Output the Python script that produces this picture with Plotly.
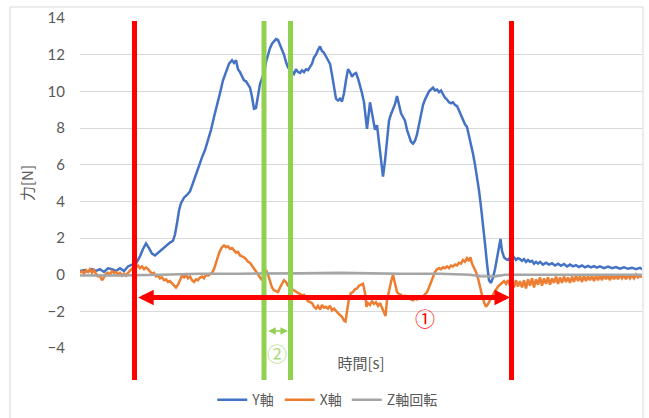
import plotly.graph_objects as go

# ---------------- data (time in s, force in N) ----------------
t_y = [0.0, 0.4, 0.8, 1.2, 1.6, 2.0, 2.4, 2.8, 3.2, 3.6, 4.0, 4.4, 4.8, 5.2, 5.6, 6.0, 6.3, 6.6, 6.9, 7.2,
       7.5, 7.8, 8.1, 8.4, 8.7, 9.0, 9.3, 9.5, 9.7, 9.9, 10.1, 10.4, 10.7, 11.0, 11.3, 11.6, 11.9, 12.2, 12.5, 12.8,
       13.1, 13.4, 13.7, 14.0, 14.3, 14.6, 14.9, 15.2, 15.4, 15.6, 15.8, 16.0, 16.2, 16.4, 16.6, 16.8, 17.0, 17.2, 17.4, 17.6,
       17.8, 18.0, 18.2, 18.4, 18.6, 18.8, 19.0, 19.2, 19.4, 19.6, 19.8, 20.0, 20.2, 20.4, 20.6, 20.8, 21.0, 21.2, 21.4, 21.6,
       21.8, 22.0, 22.2, 22.4, 22.6, 22.8, 23.0, 23.2, 23.4, 23.6, 23.8, 24.0, 24.2, 24.4, 24.6, 24.8, 25.0, 25.2, 25.4, 25.6,
       25.8, 26.0, 26.2, 26.4, 26.6, 26.8, 27.0, 27.2, 27.4, 27.6, 27.8, 28.0, 28.2, 28.4, 28.6, 28.7, 28.9, 29.0, 29.2, 29.4,
       29.5, 29.7, 29.9, 30.1, 30.3, 30.5, 30.7, 30.9, 31.1, 31.3, 31.5, 31.7, 31.9, 32.1, 32.3, 32.5, 32.7, 32.9, 33.1, 33.3,
       33.5, 33.7, 33.9, 34.1, 34.3, 34.5, 34.7, 34.9, 35.1, 35.3, 35.5, 35.7, 35.9, 36.1, 36.3, 36.5, 36.7, 36.9, 37.1, 37.3,
       37.5, 37.7, 37.9, 38.1, 38.3, 38.5, 38.7, 38.9, 39.1, 39.3, 39.5, 39.7, 39.9, 40.1, 40.3, 40.5, 40.7, 40.9, 41.1, 41.3,
       41.5, 41.7, 41.9, 42.05, 42.2, 42.4, 42.6, 42.8, 43.0, 43.2, 43.4, 43.6, 43.8, 44.0, 44.2, 44.4, 44.6, 44.8, 45.0, 45.2,
       45.4, 45.6, 45.8, 46.0, 46.3, 46.6, 46.9, 47.2, 47.5, 47.8, 48.1, 48.4, 48.7, 49.0, 49.3, 49.6, 49.9, 50.2, 50.5, 50.8,
       51.1, 51.4, 51.7, 52.0, 52.4, 52.8, 53.2, 53.6, 54.0, 54.4, 54.8, 55.2, 55.6, 56.0, 56.2]
y_axis = [0.2, 0.25, 0.15, 0.3, 0.2, 0.3, 0.15, 0.35, 0.3, 0.2, 0.35, 0.2, 0.45, 0.55, 0.6, 1.0, 1.4, 1.7, 1.45, 1.15,
          1.05, 1.2, 1.3, 1.45, 1.6, 1.75, 1.85, 2.2, 2.8, 3.5, 3.9, 4.2, 4.35, 4.55, 5.0, 5.5, 5.95, 6.4, 6.8, 7.3,
          7.9, 8.6, 9.2, 9.9, 10.6, 11.1, 11.5, 11.7, 11.55, 11.7, 11.2, 11.05, 10.85, 10.6, 10.55, 10.35, 10.2, 9.7, 9.05, 9.1,
          9.8, 10.4, 10.7, 11.0, 11.6, 12.05, 12.35, 12.6, 12.75, 12.85, 12.8, 12.55, 12.25, 12.0, 11.6, 11.3, 11.2, 11.1, 10.95, 11.2,
          11.05, 11.0, 11.15, 11.05, 11.2, 11.15, 11.35, 11.5, 11.85, 12.0, 12.25, 12.45, 12.2, 12.1, 11.9, 11.7, 11.5, 10.9, 10.2, 9.6,
          9.5, 9.6, 9.45, 9.9, 10.6, 11.2, 11.05, 10.8, 10.95, 11.0, 10.7, 10.35, 9.9, 9.4, 8.2, 7.95, 8.9, 9.4, 8.8, 8.1,
          7.9, 8.15, 7.3, 6.5, 5.35, 6.2, 7.4, 8.4, 8.75, 9.05, 9.3, 9.75, 9.2, 8.8, 8.6, 8.4, 7.9, 7.5, 7.25, 7.15,
          7.3, 7.65, 8.2, 8.8, 9.25, 9.55, 9.75, 10.0, 10.1, 10.2, 10.05, 10.1, 9.95, 10.05, 9.85, 9.65, 9.55, 9.4, 9.35, 9.4,
          9.25, 9.2, 8.95, 8.7, 8.35, 8.2, 8.05, 7.6, 7.0, 6.6, 6.0, 5.4, 4.6, 3.7, 2.8, 1.7, 0.6, -0.3, -0.45, -0.15,
          0.3, 0.9, 1.6, 1.95, 1.3, 0.95, 0.85, 0.8, 0.95, 0.85, 0.95, 0.8, 0.9, 0.85, 0.75, 0.85, 0.7, 0.8, 0.7, 0.75,
          0.6, 0.7, 0.6, 0.7, 0.55, 0.65, 0.55, 0.62, 0.5, 0.6, 0.48, 0.58, 0.45, 0.55, 0.45, 0.52, 0.42, 0.5, 0.4, 0.48,
          0.4, 0.47, 0.38, 0.45, 0.36, 0.44, 0.35, 0.42, 0.33, 0.4, 0.32, 0.38, 0.3, 0.37, 0.3]

t_x = [0.0, 0.2, 0.4, 0.6, 0.8, 1.0, 1.2, 1.4, 1.6, 1.8, 2.0, 2.2, 2.4, 2.6, 2.8, 3.0, 3.2, 3.4, 3.6, 3.8,
       4.0, 4.2, 4.4, 4.6, 4.8, 5.0, 5.2, 5.4, 5.6, 5.8, 6.0, 6.2, 6.4, 6.6, 6.8, 7.0, 7.2, 7.4, 7.6, 7.8,
       8.0, 8.2, 8.4, 8.6, 8.8, 9.0, 9.2, 9.4, 9.6, 9.8, 10.0, 10.2, 10.4, 10.6, 10.8, 11.0, 11.2, 11.4, 11.6, 11.8,
       12.0, 12.2, 12.4, 12.6, 12.8, 13.0, 13.2, 13.4, 13.6, 13.8, 14.0, 14.2, 14.4, 14.6, 14.8, 15.0, 15.2, 15.4, 15.6, 15.8,
       16.0, 16.2, 16.4, 16.6, 16.8, 17.0, 17.2, 17.4, 17.6, 17.8, 18.0, 18.2, 18.4, 18.6, 18.8, 19.0, 19.2, 19.4, 19.6, 19.8,
       20.0, 20.2, 20.4, 20.6, 20.8, 21.0, 21.2, 21.4, 21.6, 21.8, 22.0, 22.2, 22.4, 22.6, 22.8, 23.0, 23.2, 23.4, 23.6, 23.8,
       24.0, 24.2, 24.4, 24.6, 24.8, 25.0, 25.2, 25.4, 25.6, 25.8, 26.0, 26.2, 26.4, 26.55, 26.7, 26.9, 27.1, 27.3, 27.5, 27.7,
       27.9, 28.1, 28.3, 28.5, 28.65, 28.8, 29.0, 29.2, 29.4, 29.6, 29.8, 30.0, 30.2, 30.4, 30.55, 30.7, 30.9, 31.1, 31.3, 31.5,
       31.7, 31.9, 32.1, 32.3, 32.5, 32.7, 32.9, 33.1, 33.3, 33.5, 33.7, 33.9, 34.1, 34.3, 34.5, 34.7, 34.9, 35.1, 35.3, 35.5,
       35.7, 35.9, 36.1, 36.3, 36.5, 36.7, 36.9, 37.1, 37.3, 37.5, 37.7, 37.9, 38.1, 38.3, 38.5, 38.7, 38.9, 39.05, 39.2, 39.4,
       39.6, 39.8, 40.0, 40.2, 40.4, 40.6, 40.8, 41.0, 41.2, 41.4, 41.6, 41.8, 42.0, 42.2, 42.4, 42.6, 42.8, 43.0, 43.2, 43.4,
       43.6, 43.8, 44.0, 44.2, 44.4, 44.6, 44.8, 45.0, 45.2, 45.4, 45.6, 45.8, 46.0, 46.2, 46.4, 46.6, 46.8, 47.0, 47.2, 47.4,
       47.6, 47.8, 48.0, 48.2, 48.4, 48.6, 48.8, 49.0, 49.2, 49.4, 49.6, 49.8, 50.0, 50.2, 50.4, 50.6, 50.8, 51.0, 51.2, 51.4,
       51.6, 51.8, 52.0, 52.2, 52.4, 52.6, 52.8, 53.0, 53.2, 53.4, 53.6, 53.8, 54.0, 54.2, 54.4, 54.6, 54.8, 55.0, 55.2, 55.4,
       55.6, 55.8, 56.0, 56.2]
x_axis = [0.1, 0.2, 0.05, 0.25, 0.15, 0.3, 0.1, 0.25, 0.05, -0.1, -0.05, -0.3, -0.15, 0.05, 0.1, 0.0, 0.2, 0.1, 0.15, 0.0,
          0.1, -0.05, 0.05, -0.05, 0.1, 0.2, 0.35, 0.45, 0.4, 0.5, 0.35, 0.45, 0.3, 0.4, 0.3, 0.15, 0.05, 0.1, -0.1, -0.05,
          -0.2, -0.15, -0.3, -0.25, -0.4, -0.35, -0.45, -0.6, -0.7, -0.55, -0.3, -0.05, -0.15, 0.0, -0.2, -0.1, -0.3, -0.4, -0.25, -0.3,
          -0.15, -0.1, -0.2, 0.0, -0.05, 0.05, 0.1, 0.3, 0.7, 1.0, 1.3, 1.5, 1.6, 1.5, 1.55, 1.4, 1.45, 1.3, 1.2, 1.25,
          1.05, 1.0, 0.95, 0.85, 0.7, 0.65, 0.5, 0.35, 0.15, 0.0, -0.15, -0.3, 0.05, 0.25, 0.0, -0.35, -0.7, -0.85, -0.9, -0.95,
          -0.7, -0.5, -0.3, -0.4, -0.6, -0.65, -0.8, -0.85, -0.95, -1.0, -1.05, -1.15, -1.1, -1.3, -1.45, -1.5, -1.55, -1.75, -1.85, -1.7,
          -1.9, -1.65, -1.8, -1.75, -1.85, -1.7, -1.95, -1.85, -2.0, -2.1, -2.2, -2.3, -2.5, -2.55, -2.0, -1.3, -1.0, -0.95, -0.8, -0.75,
          -0.6, -0.55, -0.5, -1.0, -1.75, -1.55, -1.65, -1.45, -1.6, -1.5, -1.7, -1.55, -1.8, -2.1, -2.25, -1.4, -0.8, -0.4, 0.0, -0.5,
          -0.95, -1.05, -1.1, -1.2, -1.15, -1.3, -1.2, -1.35, -1.4, -1.3, -1.35, -1.25, -1.3, -1.2, -1.05, -0.95, -0.7, -0.4, -0.1, 0.15,
          0.3, 0.35, 0.3, 0.4, 0.35, 0.45, 0.35, 0.5, 0.45, 0.55, 0.5, 0.65, 0.6, 0.8, 0.7, 0.9, 0.75, 0.95, 0.6, 0.4,
          0.15, -0.2, -0.7, -1.1, -1.5, -1.75, -1.6, -1.35, -1.2, -1.0, -0.8, -0.65, -0.55, -0.45, -0.35, -0.5, -0.3, -0.6, -0.35, -0.7,
          -0.3, -0.65, -0.35, -0.7, -0.3, -0.75, -0.25, -0.6, -0.2, -0.7, -0.25, -0.55, -0.15, -0.6, -0.2, -0.5, -0.15, -0.55, -0.2, -0.45,
          -0.1, -0.5, -0.15, -0.45, -0.1, -0.4, -0.15, -0.45, -0.1, -0.4, -0.05, -0.35, -0.1, -0.4, -0.05, -0.35, -0.1, -0.3, -0.05, -0.35,
          -0.05, -0.3, -0.05, -0.3, 0.0, -0.25, -0.05, -0.3, 0.0, -0.25, -0.05, -0.25, 0.0, -0.2, -0.05, -0.25, 0.0, -0.2, -0.05, -0.2,
          0.0, -0.15, -0.05, -0.15]

t_z = [0.0, 4.0, 8.0, 12.0, 16.0, 20.0, 22.0, 26.0, 28.0, 32.0, 36.0, 39.0, 40.0, 41.5, 42.5, 46.0, 52.0, 56.2]
z_rot = [-0.05, -0.05, 0.0, 0.05, 0.05, 0.05, 0.08, 0.1, 0.08, 0.05, 0.05, 0.0, -0.08, -0.1, 0.0, 0.0, 0.0, 0.0]

series_names = ["Y軸", "X軸", "Z軸回転"]
series_colors = ["#4472C4", "#ED7D31", "#A5A5A5"]
y_ticks = [-4, -2, 0, 2, 4, 6, 8, 10, 12, 14]

# annotation markers (time positions)
range1_start, range1_end = 5.45, 43.15      # red lines (range ①)
range2_start, range2_end = 18.4, 21.05      # green lines (range ②)
arrow1 = (5.67, 43.0, -1.24)
arrow2 = (18.67, 20.8, -3.07)

FONT = "Lato, 'Noto Sans CJK JP', sans-serif"
JP = "'Noto Sans CJK JP', Lato, sans-serif"
TXT = "#595959"

fig = go.Figure()
for tt, vv, name, col in zip([t_y, t_x, t_z], [y_axis, x_axis, z_rot], series_names, series_colors):
    fig.add_trace(go.Scatter(x=tt, y=vv, mode="lines", name=name,
                             line=dict(color=col, width=2.5)))

shapes = []
for xv, col in [(range1_start, "#FF0000"), (range1_end, "#FF0000"),
                (range2_start, "#92D050"), (range2_end, "#92D050")]:
    shapes.append(dict(type="line", xref="x", yref="paper", x0=xv, x1=xv, y0=-0.097, y1=0.991,
                       line=dict(color=col, width=5), layer="above"))
# chart outer border
shapes.append(dict(type="rect", xref="paper", yref="paper", x0=-0.1246, x1=1.0018, y0=-0.30, y1=1.0333,
                   line=dict(color="#D9D9D9", width=1), fillcolor="rgba(0,0,0,0)", layer="below"))

annotations = [
    dict(x=arrow1[1], y=arrow1[2], ax=arrow1[0], ay=arrow1[2], xref="x", yref="y", axref="x", ayref="y",
         text="", showarrow=True, arrowhead=2, startarrowhead=2, arrowside="end+start",
         arrowwidth=5, arrowsize=0.62, startarrowsize=0.62, arrowcolor="#FF0000", standoff=0, startstandoff=0),
    dict(x=arrow2[1], y=arrow2[2], ax=arrow2[0], ay=arrow2[2], xref="x", yref="y", axref="x", ayref="y",
         text="", showarrow=True, arrowhead=2, startarrowhead=2, arrowside="end+start",
         arrowwidth=1.5, arrowsize=1.0, startarrowsize=1.0, arrowcolor="#92D050", standoff=0, startstandoff=0),
    dict(x=34.5, y=-2.37, xref="x", yref="y", text="①", showarrow=False, xanchor="center", yanchor="middle",
         font=dict(family=JP, size=20, color="#FF0000")),
    dict(x=19.7, y=-0.018, xref="x", yref="paper", text="②", showarrow=False, xanchor="center", yanchor="middle",
         font=dict(family=JP, size=20, color="#A8DB7E")),
]

fig.update_layout(
    width=649, height=418,
    margin=dict(l=80, r=7, t=18, b=70, autoexpand=False),
    paper_bgcolor="white", plot_bgcolor="white",
    font=dict(family=FONT, size=15, color=TXT),
    showlegend=True,
    legend=dict(orientation="h", x=0.44, xanchor="center", y=-0.158, yanchor="middle",
                itemwidth=30, tracegroupgap=0,
                font=dict(family=JP, size=14, color=TXT), bgcolor="rgba(0,0,0,0)"),
    xaxis=dict(range=[0, 56.2], showticklabels=False, showgrid=False, zeroline=False, showline=False,
               automargin=False,
               title=dict(text="時間[s]", font=dict(family=JP, size=15, color=TXT), standoff=10)),
    yaxis=dict(range=[-4, 14], tickvals=y_ticks, showgrid=True, gridcolor="#D9D9D9", gridwidth=1,
               zeroline=False, showline=False, ticklabelstandoff=14, automargin=False,
               tickfont=dict(family=FONT, size=15, color=TXT),
               title=dict(text="力[N]", font=dict(family=JP, size=15, color=TXT), standoff=10)),
    shapes=shapes, annotations=annotations,
)

fig.write_html("out.html", config={"displayModeBar": False},
               post_script="document.body.style.margin='0';")
